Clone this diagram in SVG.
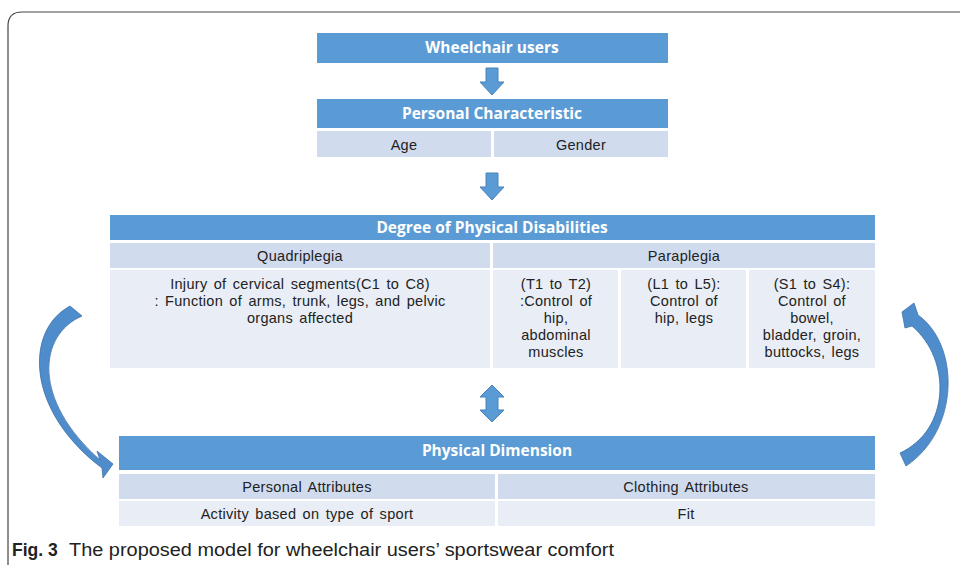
<svg xmlns="http://www.w3.org/2000/svg" width="960" height="565" viewBox="0 0 960 565">
<style>
.hd{fill:#5b9bd5}
.c1{fill:#d0dbee}
.c2{fill:#e8edf6}
.ht{font-family:"Open Sans","Noto Sans",sans-serif;font-size:15.5px;font-weight:bold;fill:#ffffff;text-anchor:middle}
.bt{font-family:"Liberation Sans",Arial,sans-serif;font-size:14.5px;fill:#222222;text-anchor:middle;letter-spacing:0.3px;word-spacing:2px}
.arr{fill:#5b9bd5;stroke:#4a82b8;stroke-width:1}
.carr{fill:#4f8ccb;stroke:#3f74a8;stroke-width:0.8}
.cap{font-family:"Liberation Sans",Arial,sans-serif;font-size:17.5px;fill:#222}
</style>
<rect width="960" height="565" fill="#ffffff"/>
<path d="M8,600 L8,26 Q8,12 22,12 L980,12" fill="none" stroke="#444" stroke-width="1.2"/>

<g id="connectors">
<path class="arr" d="M486,68 L498,68 L498,82 L504,82 L492,95 L480,82 L486,82 Z"/>
<path class="arr" d="M486,173 L498,173 L498,187 L504,187 L492,200 L480,187 L486,187 Z"/>
<path class="arr" d="M492,385 L504,397 L498,397 L498,410 L504,410 L492,422 L480,410 L486,410 L486,397 L480,397 Z"/>
<path class="carr" d="M70,306 L82,316 C38,335 32,400 100,460 L97,451 L113,464 L103,478 L102,468 C25,410 25,330 70,306 Z"/>
<path class="carr" d="M900,453 C950,430 952,360 912,326 L905,328 L902,312 L914,303 L918,315 C960,345 960,430 906,466 Z"/>
</g>

<g id="wheelchair-users">
<rect class="hd" x="317" y="33" width="351" height="30"/>
<text class="ht" x="492" y="53">Wheelchair users</text>
</g>

<g id="personal-characteristic">
<rect class="hd" x="317" y="99" width="351" height="29"/>
<text class="ht" x="492" y="119">Personal Characteristic</text>
<rect class="c1" x="317" y="131" width="174" height="26"/>
<rect class="c1" x="494" y="131" width="174" height="26"/>
<text class="bt" x="404" y="150">Age</text>
<text class="bt" x="581" y="150">Gender</text>
</g>

<g id="degree-of-physical-disabilities">
<rect class="hd" x="110" y="215" width="765" height="25"/>
<text class="ht" x="492" y="233">Degree of Physical Disabilities</text>
<rect class="c1" x="110" y="243" width="380" height="25"/>
<rect class="c1" x="493" y="243" width="382" height="25"/>
<text class="bt" x="300" y="261">Quadriplegia</text>
<text class="bt" x="684" y="261">Paraplegia</text>
<rect class="c2" x="110" y="270" width="380" height="98"/>
<rect class="c2" x="493" y="270" width="125" height="98"/>
<rect class="c2" x="621" y="270" width="125" height="98"/>
<rect class="c2" x="749" y="270" width="126" height="98"/>
<text class="bt" x="300" y="289">Injury of cervical segments(C1 to C8)</text>
<text class="bt" x="300" y="306">: Function of arms, trunk, legs, and pelvic</text>
<text class="bt" x="300" y="323">organs affected</text>
<text class="bt" x="556" y="289">(T1 to T2)</text>
<text class="bt" x="556" y="306">:Control of</text>
<text class="bt" x="556" y="323">hip,</text>
<text class="bt" x="556" y="340">abdominal</text>
<text class="bt" x="556" y="357">muscles</text>
<text class="bt" x="684" y="289">(L1 to L5):</text>
<text class="bt" x="684" y="306">Control of</text>
<text class="bt" x="684" y="323">hip, legs</text>
<text class="bt" x="812" y="289">(S1 to S4):</text>
<text class="bt" x="812" y="306">Control of</text>
<text class="bt" x="812" y="323">bowel,</text>
<text class="bt" x="812" y="340">bladder, groin,</text>
<text class="bt" x="812" y="357">buttocks, legs</text>
</g>

<g id="physical-dimension">
<rect class="hd" x="119" y="436" width="756" height="34"/>
<text class="ht" x="497" y="456">Physical Dimension</text>
<rect class="c1" x="119" y="474" width="376" height="25"/>
<rect class="c1" x="498" y="474" width="377" height="25"/>
<text class="bt" x="307" y="492">Personal Attributes</text>
<text class="bt" x="686" y="492">Clothing Attributes</text>
<rect class="c2" x="119" y="501" width="376" height="25"/>
<rect class="c2" x="498" y="501" width="377" height="25"/>
<text class="bt" x="307" y="519">Activity based on type of sport</text>
<text class="bt" x="686" y="519">Fit</text>
</g>

<g id="caption">
<text class="cap" x="12" y="556" font-weight="bold">Fig. 3</text>
<text class="cap" x="69" y="556" textLength="545" lengthAdjust="spacingAndGlyphs">The proposed model for wheelchair users’ sportswear comfort</text>
</g>
</svg>
